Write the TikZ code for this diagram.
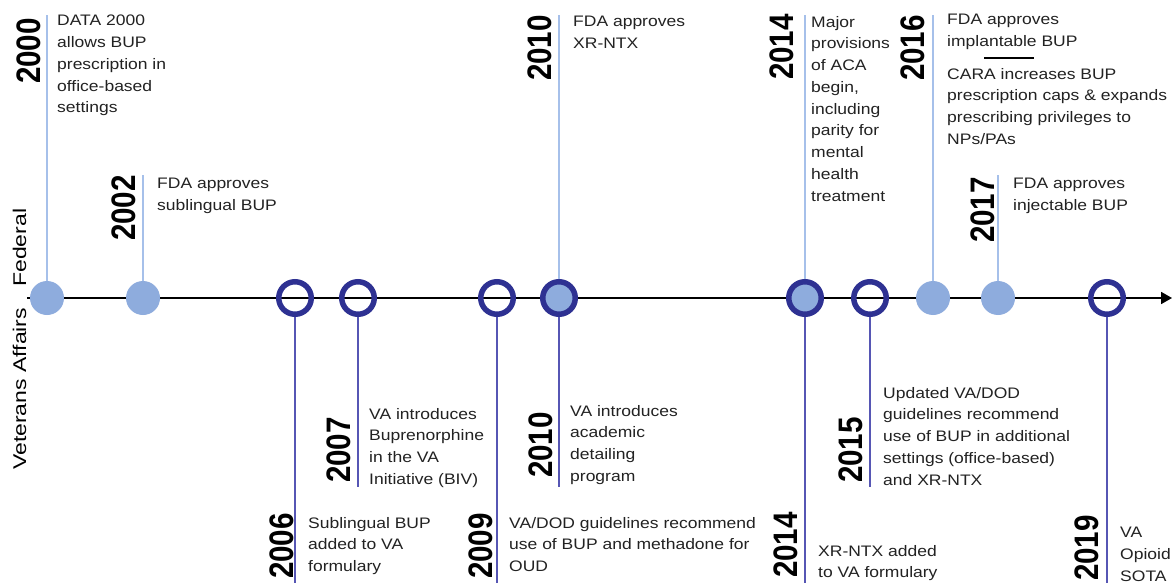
\documentclass[tikz,border=0pt]{standalone}
\usepackage{fontspec}
\setmainfont{Liberation Sans}
\usetikzlibrary{arrows.meta}
\definecolor{fedfill}{HTML}{8EACDD}
\definecolor{fedline}{HTML}{A6C0EA}
\definecolor{vaedge}{HTML}{2E3192}
\definecolor{valine}{HTML}{5656B4}
\definecolor{txtcol}{HTML}{222222}
\begin{document}
\begin{tikzpicture}[x=1pt,y=-1pt,
  desc/.style={anchor=north west, inner sep=0pt, align=left, text=txtcol, font=\fontsize{17.5}{25}\selectfont, yscale=0.87},
  yearlbl/.style={anchor=base east, inner sep=0pt, font=\bfseries\fontsize{34}{34}\selectfont, yscale=0.87, rotate=90},
  lanelbl/.style={anchor=base west, inner sep=0pt, font=\fontsize{23}{23}\selectfont, xscale=0.8, rotate=90},
  fedpt/.style={circle, fill=fedfill, minimum size=34pt, inner sep=0pt},
  vapt/.style={circle, draw=vaedge, line width=5.5pt, minimum size=32.5pt, inner sep=0pt},
  bothpt/.style={vapt, fill=fedfill},
  fedstem/.style={draw=fedline, line width=2pt},
  vastem/.style={draw=valine, line width=2pt},
]
\useasboundingbox (0,0) rectangle (1172,583);
\fill[white] (0,0) rectangle (1172,583);

% axis
\coordinate (axs) at (27,298);
\coordinate (axe) at (1172,298);
\draw[line width=1.8pt, -{Triangle[length=11pt,width=12pt]}] (axs) -- (axe);

% event markers
\node[fedpt]  (p2000)  at (47,298) {};
\node[fedpt]  (p2002)  at (143,298) {};
\node[vapt]   (p2006)  at (295,298) {};
\node[vapt]   (p2007)  at (358,298) {};
\node[vapt]   (p2009)  at (497,298) {};
\node[bothpt] (p2010)  at (559,298) {};
\node[bothpt] (p2014)  at (805,298) {};
\node[vapt]   (p2015)  at (870,298) {};
\node[fedpt]  (p2016)  at (933,298) {};
\node[fedpt]  (p2017)  at (998,298) {};
\node[vapt]   (p2019)  at (1107,298) {};

% stem ends
\coordinate (t2000) at (47,15);
\coordinate (t2002) at (143,175);
\coordinate (t2010) at (559,15);
\coordinate (t2014) at (805,15);
\coordinate (t2016) at (933,15);
\coordinate (t2017) at (998,175);
\coordinate (b2006) at (295,583);
\coordinate (b2007) at (358,487);
\coordinate (b2009) at (497,583);
\coordinate (b2010) at (559,487);
\coordinate (b2014) at (805,583);
\coordinate (b2015) at (870,487);
\coordinate (b2019) at (1107,583);

\draw[fedstem] (p2000) -- (t2000);
\draw[fedstem] (p2002) -- (t2002);
\draw[fedstem] (p2010) -- (t2010);
\draw[fedstem] (p2014) -- (t2014);
\draw[fedstem] (p2016) -- (t2016);
\draw[fedstem] (p2017) -- (t2017);
\draw[vastem] (p2006) -- (b2006);
\draw[vastem] (p2007) -- (b2007);
\draw[vastem] (p2009) -- (b2009);
\draw[vastem] (p2010) -- (b2010);
\draw[vastem] (p2014) -- (b2014);
\draw[vastem] (p2015) -- (b2015);
\draw[vastem] (p2019) -- (b2019);

% lane labels
\node[lanelbl] (lfed) at (26,287) {Federal};
\node[lanelbl] (lva) at (26,470) {Veterans Affairs};

% federal events
\node[yearlbl] (y2000) at (40,18) {2000};
\node[desc] (d2000) at (57,15) {DATA 2000\\allows BUP\\prescription in\\office-based\\settings};
\node[yearlbl] (y2002) at (135,175) {2002};
\node[desc] (d2002) at (157,178) {FDA approves\\sublingual BUP};
\node[yearlbl] (y2010f) at (551,15) {2010};
\node[desc] (d2010f) at (573,16) {FDA approves\\XR-NTX};
\node[yearlbl] (y2014f) at (793,14) {2014};
\node[desc] (d2014f) at (811,16) {Major\\provisions\\of ACA\\begin,\\including\\parity for\\mental\\health\\treatment};
\node[yearlbl] (y2016) at (924,15) {2016};
\node[desc] (d2016a) at (947,14) {FDA approves\\implantable BUP};
\coordinate (sepa) at (984,58);
\coordinate (sepb) at (1034,58);
\draw[line width=1.3pt, black] (sepa) -- (sepb);
\node[desc] (d2016b) at (947,68) {CARA increases BUP\\prescription caps \& expands\\prescribing privileges to\\NPs/PAs};
\node[yearlbl] (y2017) at (994,177) {2017};
\node[desc] (d2017) at (1013,178) {FDA approves\\injectable BUP};

% VA events
\node[yearlbl] (y2006) at (293,513) {2006};
\node[desc] (d2006) at (308,517) {Sublingual BUP\\added to VA\\formulary};
\node[yearlbl] (y2007) at (350,417) {2007};
\node[desc] (d2007) at (369,408) {VA introduces\\Buprenorphine\\in the VA\\Initiative (BIV)};
\node[yearlbl] (y2009) at (492,513) {2009};
\node[desc] (d2009) at (509,517) {VA/DOD guidelines recommend\\use of BUP and methadone for\\OUD};
\node[yearlbl] (y2010v) at (552,412) {2010};
\node[desc] (d2010v) at (570,405) {VA introduces\\academic\\detailing\\program};
\node[yearlbl] (y2014v) at (797,512) {2014};
\node[desc] (d2014v) at (818,545) {XR-NTX added\\to VA formulary};
\node[yearlbl] (y2015) at (862,417) {2015};
\node[desc] (d2015) at (883,387) {Updated VA/DOD\\guidelines recommend\\use of BUP in additional\\settings (office-based)\\and XR-NTX};
\node[yearlbl] (y2019) at (1098,515) {2019};
\node[desc] (d2019) at (1120,527) {VA\\Opioid\\SOTA};
\end{tikzpicture}
\end{document}
